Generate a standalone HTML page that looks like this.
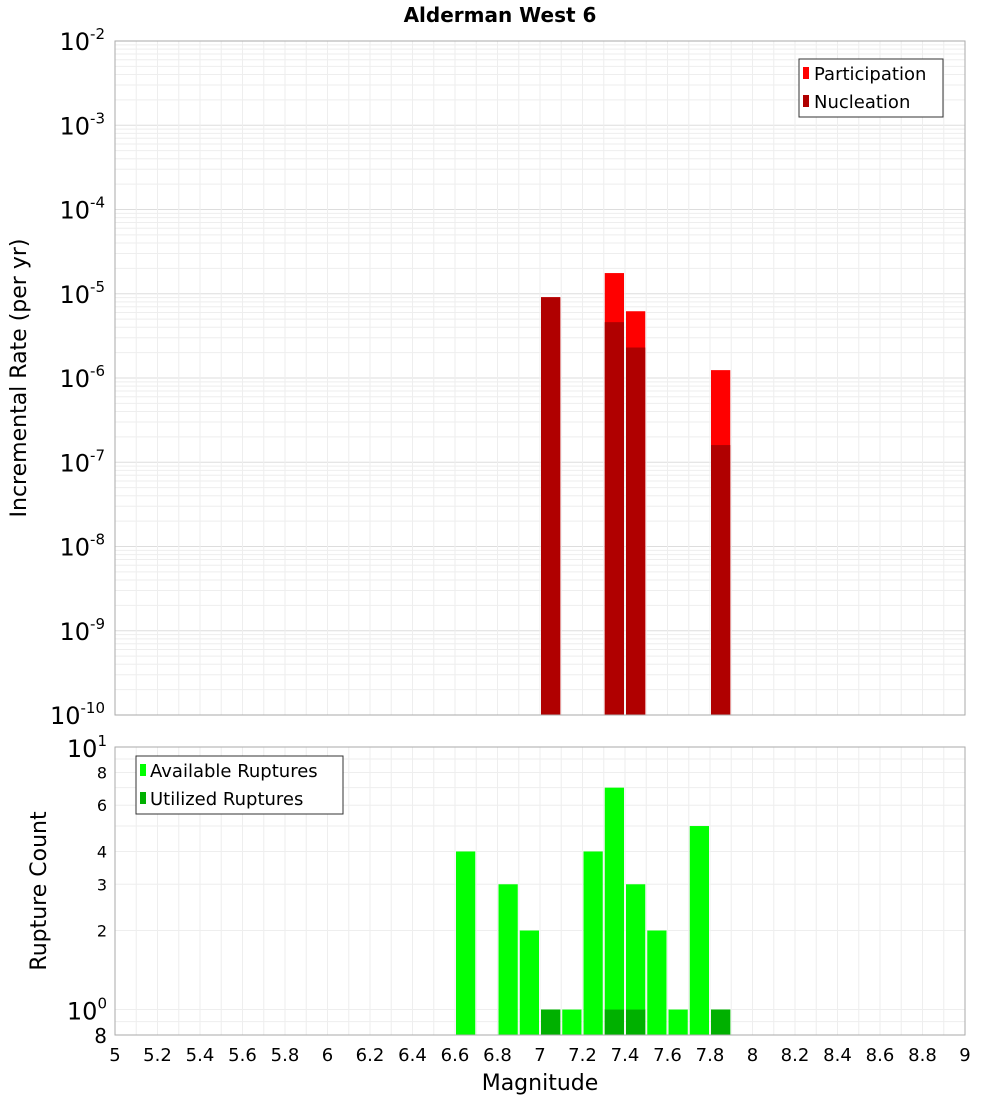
<!DOCTYPE html>
<html><head><meta charset="utf-8"><style>
body{margin:0;background:#fff;font-family:"Liberation Sans","DejaVu Sans",sans-serif;}
svg text{font-family:"DejaVu Sans","Liberation Sans",sans-serif;}
</style></head><body>
<svg id="chart" width="1000" height="1100" xmlns="http://www.w3.org/2000/svg">
<text x="500" y="22" text-anchor="middle" font-size="20" font-weight="bold">Alderman West 6</text>
<g id="topPlot"></g>
<g id="botPlot"></g>
<text transform="translate(26,378) rotate(-90)" text-anchor="middle" font-size="22">Incremental Rate (per yr)</text>
<text transform="translate(46,891) rotate(-90)" text-anchor="middle" font-size="22">Rupture Count</text>
<text x="540" y="1090" text-anchor="middle" font-size="22">Magnitude</text>
</svg>
<script>
const mags=[7.05,7.35,7.45,7.85];
const participation=[9.1e-6,1.76e-5,6.2e-6,1.24e-6];
const nucleation=[9.1e-6,4.6e-6,2.3e-6,1.6e-7];
const countMags=[6.65,6.85,6.95,7.05,7.15,7.25,7.35,7.45,7.55,7.65,7.75,7.85];
const available=[4,3,2,1,1,4,7,3,2,1,5,1];
const utilMags=[7.05,7.35,7.45,7.85];
const utilized=[1,1,1,1];
const xTicks=[5,5.2,5.4,5.6,5.8,6,6.2,6.4,6.6,6.8,7,7.2,7.4,7.6,7.8,8,8.2,8.4,8.6,8.8,9];
const topExps=[-10,-9,-8,-7,-6,-5,-4,-3,-2];
const botTicks=[1,2,3,4,6,8,10];

const NS="http://www.w3.org/2000/svg";
const X0=115,X1=965;
const xs=m=>X0+(m-5)/4*(X1-X0);
const T0=41,T1=715;
const yTop=v=>T1-(Math.log10(v)+10)/8*(T1-T0);
const B0=747,B1=1035;
const lb=Math.log10(0.8),lt=1;
const yBot=v=>B1-(Math.log10(v)-lb)/(lt-lb)*(B1-B0);
function mk(p,tag,at){const e=document.createElementNS(NS,tag);for(const k in at)e.setAttribute(k,at[k]);p.appendChild(e);return e;}
function sup(t,base,exp){
 t.appendChild(document.createTextNode(base));
 const s=document.createElementNS(NS,'tspan');s.setAttribute('dy','-11');s.setAttribute('font-size','15');s.textContent=exp;t.appendChild(s);}
const topG=document.getElementById('topPlot'),botG=document.getElementById('botPlot');

for(let e=-10;e<-2;e++)for(let k=1;k<10;k++){const y=yTop(k*Math.pow(10,e));
 const l=mk(topG,'line',{x1:X0,x2:X1,y1:y,y2:y,stroke:k==1?'#dddddd':'#eeeeee','stroke-width':1});
 
 }
for(let i=0;i<=40;i++){const x=xs(5+i*0.1);
 const l=mk(topG,'line',{x1:x,x2:x,y1:T0,y2:T1,stroke:'#eeeeee'});
 
 
 const l2=mk(botG,'line',{x1:x,x2:x,y1:B0,y2:B1,stroke:'#eeeeee'});
 
 }
const bw=(X1-X0)/40;
mags.forEach((m,i)=>{
 const yp=yTop(participation[i]);
 const r=mk(topG,'rect',{x:xs(m)-bw/2+1,y:yp,width:bw-2,height:T1-yp,fill:'#ff0000'});
 
 
 const yn=yTop(nucleation[i]);
 const r2=mk(topG,'rect',{x:xs(m)-bw/2+1,y:yn,width:bw-2,height:T1-yn,fill:'#b00000'});
 
 
});
mk(topG,'rect',{x:X0,y:T0,width:X1-X0,height:T1-T0,fill:'none',stroke:'#aaaaaa'});
topExps.forEach(e=>{const y=yTop(Math.pow(10,e));
 const t=mk(topG,'text',{x:105,y:y+9,'text-anchor':'end','font-size':24});
 
 
 sup(t,'10',String(e));});
const lg=mk(topG,'g',{});


mk(lg,'rect',{x:799,y:59,width:144,height:58,fill:'#fff',stroke:'#333'});
mk(lg,'rect',{x:803,y:67,width:6,height:12,fill:'#ff0000'});
mk(lg,'text',{x:814,y:80,'font-size':18}).textContent='Participation';
mk(lg,'rect',{x:803,y:95,width:6,height:12,fill:'#b00000'});
mk(lg,'text',{x:814,y:108,'font-size':18}).textContent='Nucleation';

[0.9,1,2,3,4,5,6,7,8,9,10].forEach(v=>{const y=yBot(v);
 const l=mk(botG,'line',{x1:X0,x2:X1,y1:y,y2:y,stroke:'#eeeeee'});
 
 });
countMags.forEach((m,i)=>{const y=yBot(available[i]);
 const r=mk(botG,'rect',{x:xs(m)-bw/2+1,y:y,width:bw-2,height:B1-y,fill:'#00ff00'});
 
 });
utilMags.forEach((m,i)=>{const y=yBot(utilized[i]);
 const r=mk(botG,'rect',{x:xs(m)-bw/2+1,y:y,width:bw-2,height:B1-y,fill:'#00b000'});
 
 });
mk(botG,'rect',{x:X0,y:B0,width:X1-X0,height:B1-B0,fill:'none',stroke:'#aaaaaa'});
botTicks.forEach(v=>{const y=yBot(v);const t=mk(botG,'text',{x:107,y:y+6,'text-anchor':'end','font-size':16});
 
 
 if(v==1||v==10){t.setAttribute('font-size',24);t.setAttribute('y',y+10);sup(t,'10',v==1?'0':'1');}
 else t.textContent=v;});
{const t=mk(botG,'text',{x:107,y:B1+8,'text-anchor':'end','font-size':20});t.textContent='8';
 
 }
xTicks.forEach(m=>{const t=mk(botG,'text',{x:xs(m),y:1061,'text-anchor':'middle','font-size':18});
 
 
 t.textContent=String(m);});
const lg2=mk(botG,'g',{});


mk(lg2,'rect',{x:136,y:756,width:207,height:58,fill:'#fff',stroke:'#333'});
mk(lg2,'rect',{x:140,y:764,width:6,height:12,fill:'#00ff00'});
mk(lg2,'text',{x:150,y:777,'font-size':18}).textContent='Available Ruptures';
mk(lg2,'rect',{x:140,y:792,width:6,height:12,fill:'#00b000'});
mk(lg2,'text',{x:150,y:805,'font-size':18}).textContent='Utilized Ruptures';
</script>
</body></html>
